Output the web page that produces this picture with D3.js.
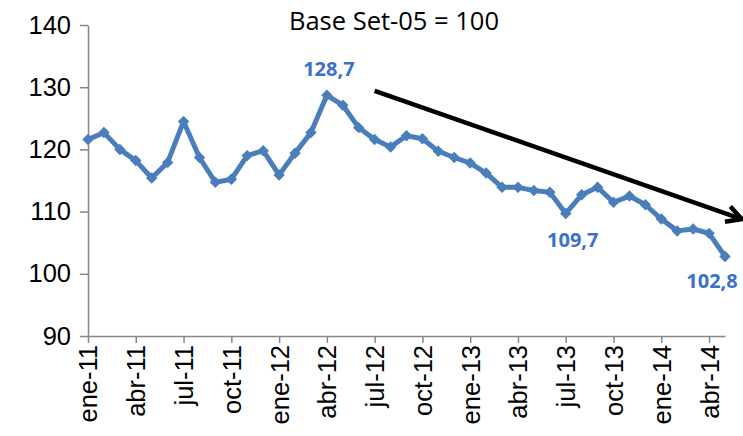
<!DOCTYPE html>
<html>
<head>
<meta charset="utf-8">
<script src="https://cdn.jsdelivr.net/npm/d3@7"></script>
<style>
  body { margin: 0; background: #fff; }
  svg { font-family: "Open Sans", "Noto Sans", sans-serif; }
</style>
</head>
<body>
<svg id="chart" width="743" height="436"></svg>
<script>
// months ene-11 .. may-14
var months = ["ene-11","feb-11","mar-11","abr-11","may-11","jun-11","jul-11","ago-11","sep-11","oct-11","nov-11","dic-11",
              "ene-12","feb-12","mar-12","abr-12","may-12","jun-12","jul-12","ago-12","sep-12","oct-12","nov-12","dic-12",
              "ene-13","feb-13","mar-13","abr-13","may-13","jun-13","jul-13","ago-13","sep-13","oct-13","nov-13","dic-13",
              "ene-14","feb-14","mar-14","abr-14","may-14"];

var values = [121.6, 122.7, 120.0, 118.2, 115.4, 117.9, 124.5, 118.7, 114.7, 115.2, 119.0, 119.8,
              115.9, 119.4, 122.7, 128.7, 127.1, 123.5, 121.6, 120.4, 122.2, 121.7, 119.7, 118.7,
              117.8, 116.2, 113.9, 113.9, 113.4, 113.1, 109.7, 112.7, 113.9, 111.5, 112.5, 111.1,
              108.8, 106.9, 107.2, 106.5, 102.8];

var yTicks = [90, 100, 110, 120, 130, 140];
var xTickLabels = ["ene-11","abr-11","jul-11","oct-11","ene-12","abr-12","jul-12","oct-12","ene-13","abr-13","jul-13","oct-13","ene-14","abr-14"];

var title = "Base Set-05 = 100";
// labelled points: month, dx, dy of text from point
var callouts = [
  { month: "abr-12", dx: 2, dy: -19 },
  { month: "jul-13", dx: 7, dy: 34 },
  { month: "may-14", dx: -13, dy: 32 }
];
// trend arrow in data units (month index, value)
var trendFrom = [18, 129.4];
var trendTo = [41.05, 108.8];

var svg = d3.select("#chart");
var axisColor = "#868686",
    lineColor = "#4a7ebb",
    labelColor = "#3b6fcc";

var x = d3.scaleLinear()
    .domain([0, months.length - 1])
    .range([88, 725]);

var y = d3.scaleLinear()
    .domain([90, 140])
    .range([336, 25]);

// y axis
var yAxis = svg.append("g")
    .attr("transform", "translate(88,0)")
    .call(d3.axisLeft(y).tickValues(yTicks).tickSize(8).tickPadding(9).tickSizeOuter(0));
yAxis.select(".domain").attr("stroke", axisColor).attr("stroke-width", 1.5);
yAxis.selectAll(".tick line").attr("stroke", axisColor).attr("stroke-width", 1.5);
yAxis.selectAll(".tick text")
    .attr("fill", "#000")
    .style("font-size", "25.5px");

// x axis
var xIdx = xTickLabels.map(function(m) { return months.indexOf(m); });
var xAxis = svg.append("g")
    .attr("transform", "translate(0,336)")
    .call(d3.axisBottom(x).tickValues(xIdx).tickFormat(function(i) { return months[i]; })
      .tickSize(7).tickSizeOuter(0));
xAxis.select(".domain").attr("stroke", axisColor).attr("stroke-width", 1.5);
xAxis.selectAll(".tick line").attr("stroke", axisColor).attr("stroke-width", 1.5);
xAxis.selectAll(".tick text")
    .attr("fill", "#000")
    .style("font-size", "25.5px")
    .attr("text-anchor", "end")
    .attr("transform", "rotate(-90)")
    .attr("x", -9)
    .attr("y", 0)
    .attr("dy", "0.35em");

// title
svg.append("text")
    .attr("x", 394)
    .attr("y", 30)
    .attr("text-anchor", "middle")
    .style("font-size", "25.5px")
    .attr("fill", "#000")
    .text(title);

// series line
var line = d3.line()
    .x(function(d, i) { return x(i); })
    .y(function(d) { return y(d); });

svg.append("path")
    .datum(values)
    .attr("fill", "none")
    .attr("stroke", lineColor)
    .attr("stroke-width", 5)
    .attr("stroke-linejoin", "round")
    .attr("d", line);

var diamond = d3.symbol().type(d3.symbolSquare).size(66);
svg.append("g").selectAll("path")
    .data(values)
  .enter().append("path")
    .attr("d", diamond)
    .attr("fill", lineColor)
    .attr("transform", function(d, i) { return "translate(" + x(i) + "," + y(d) + ") rotate(45)"; });

// data labels
svg.append("g").selectAll("text")
    .data(callouts)
  .enter().append("text")
    .attr("x", function(c) { return x(months.indexOf(c.month)) + c.dx; })
    .attr("y", function(c) { return y(values[months.indexOf(c.month)]) + c.dy; })
    .attr("text-anchor", "middle")
    .style("font-size", "20px")
    .style("font-weight", "bold")
    .attr("fill", labelColor)
    .text(function(c) { return String(values[months.indexOf(c.month)]).replace(".", ","); });

// trend arrow
var x0 = x(trendFrom[0]), y0 = y(trendFrom[1]),
    x1 = x(trendTo[0]), y1 = y(trendTo[1]);
var ang = Math.atan2(y1 - y0, x1 - x0);
var head = 17, spread = 0.5;
svg.append("line")
    .attr("x1", x0).attr("y1", y0)
    .attr("x2", x1).attr("y2", y1)
    .attr("stroke", "#000")
    .attr("stroke-width", 4.5);
svg.append("path")
    .attr("d", "M" + (x1 - head * Math.cos(ang - spread)) + "," + (y1 - head * Math.sin(ang - spread)) +
               "L" + x1 + "," + y1 +
               "L" + (x1 - head * Math.cos(ang + spread)) + "," + (y1 - head * Math.sin(ang + spread)))
    .attr("fill", "none")
    .attr("stroke", "#000")
    .attr("stroke-width", 4.5)
    .attr("stroke-linejoin", "miter");
</script>
</body>
</html>
